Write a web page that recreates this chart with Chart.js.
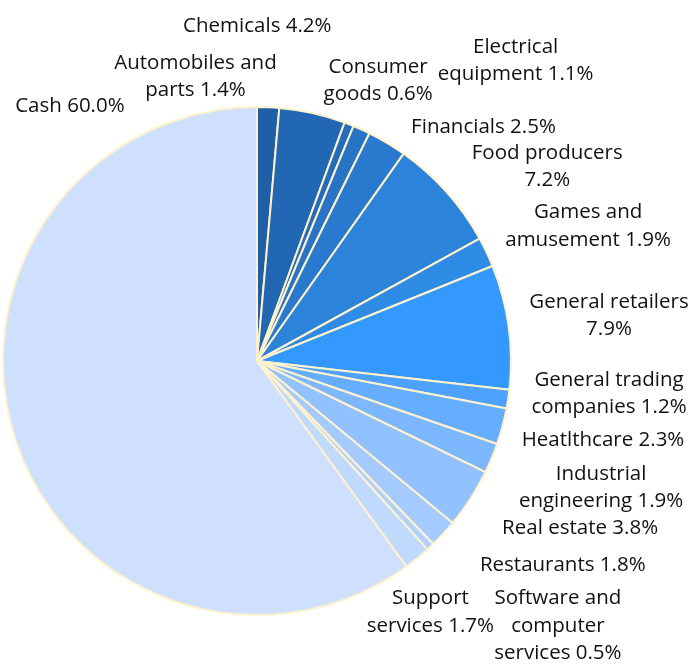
<!DOCTYPE html>
<html>
<head>
<meta charset="utf-8">
<script src="https://cdn.jsdelivr.net/npm/chart.js@4/dist/chart.umd.min.js"></script>
<style>
  html, body { margin: 0; padding: 0; background: #ffffff; }
  #wrap { width: 693px; height: 664px; }
</style>
</head>
<body>
<div id="wrap"><canvas id="c" width="693" height="664"></canvas></div>
<script>
// ---- data ----
const categories = [
  "Automobiles and parts", "Chemicals", "Consumer goods", "Electrical equipment",
  "Financials", "Food producers", "Games and amusement", "General retailers",
  "General trading companies", "Heatlthcare", "Industrial engineering", "Real estate",
  "Restaurants", "Software and computer services", "Support services", "Cash"
];
const shares = [1.4, 4.2, 0.6, 1.1, 2.5, 7.2, 1.9, 7.9, 1.2, 2.3, 1.9, 3.8, 1.8, 0.5, 1.7, 60.0];
// label text as wrapped in the original (value appended to last line)
const labelLines = [
  ["Automobiles and", "parts"], ["Chemicals"], ["Consumer", "goods"], ["Electrical", "equipment"],
  ["Financials"], ["Food producers", ""], ["Games and", "amusement"], ["General retailers", ""],
  ["General trading", "companies"], ["Heatlthcare"], ["Industrial", "engineering"], ["Real estate"],
  ["Restaurants"], ["Software and", "computer", "services"], ["Support", "services"], ["Cash"]
];

const colors = [
  "#1F5FA8", "#2267B4", "#246DBD", "#2773C6", "#297ACF", "#2C83DA", "#2E8BE6", "#3399FF",
  "#4DA2FF", "#65ADFF", "#7CB7FF", "#92C1FF", "#A4CAFF", "#B2D1FF", "#C0D9FF", "#CFE0FF"
];

const FONT = '20.5px "Open Sans", "Noto Sans", sans-serif';
const LINE_H = 27.5;
// offsets of first baseline from the slice's outer mid point (label placement)
const labelOffsets = [
  [-72.7, -38.6], [-55.1, -81.1], [29.1, -51.6], [154.1, -76.9],
  [96.5, -10.2], [100.8, -33.2], [101.6, -33.7], [100.3, -19.2],
  [100.9, -13.3], [100.6, 19.3], [109.4, 21.4], [109.5, 36],
  [119.5, 37.3], [127.6, 57.5], [13.3, 46], [54.5, -327.8]
];

const labelPlugin = {
  id: 'outLabels',
  afterDatasetsDraw(chart) {
    const ctx = chart.ctx;
    const meta = chart.getDatasetMeta(0);
    ctx.save();
    ctx.font = FONT;
    ctx.fillStyle = '#111111';
    ctx.textBaseline = 'alphabetic';
    ctx.textAlign = 'center';
    meta.data.forEach((arc, i) => {
      const p = arc.getProps(['x', 'y', 'startAngle', 'endAngle', 'outerRadius'], true);
      const mid = (p.startAngle + p.endAngle) / 2;
      const ox = p.x + Math.cos(mid) * p.outerRadius;
      const oy = p.y + Math.sin(mid) * p.outerRadius;
      const lines = labelLines[i].slice();
      const val = shares[i].toFixed(1) + '%';
      const last = lines.length - 1;
      lines[last] = lines[last] ? lines[last] + ' ' + val : val;
      const bx = ox + labelOffsets[i][0];
      const by = oy + labelOffsets[i][1];
      lines.forEach((t, k) => ctx.fillText(t, bx, by + k * LINE_H));
    });
    ctx.restore();
  }
};

new Chart(document.getElementById('c'), {
  type: 'pie',
  data: {
    labels: categories,
    datasets: [{
      data: shares,
      backgroundColor: colors,
      borderColor: '#FFF2CC',
      borderWidth: 2
    }]
  },
  options: {
    responsive: false,
    animation: false,
    layout: { padding: { left: 2, right: 181, top: 106, bottom: 48 } },
    plugins: { legend: { display: false }, tooltip: { enabled: false } }
  },
  plugins: [labelPlugin]
});
</script>
</body>
</html>
